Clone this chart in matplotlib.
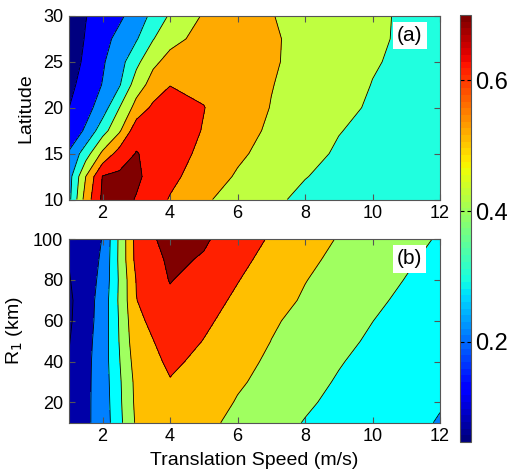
import numpy as np
import matplotlib
matplotlib.use("Agg")
import matplotlib.pyplot as plt
from matplotlib.cm import ScalarMappable
from matplotlib.colors import Normalize

plt.rcParams['font.family'] = ['Liberation Sans', 'DejaVu Sans']

# panel (a): translation speed vs latitude
speed_a = [1, 1.5, 2, 2.5, 3, 3.5, 4, 5, 6, 7, 8, 9, 10, 11, 12]
lat = [10, 12.5, 15, 17.5, 20, 22.5, 25, 27.5, 30]
val_a = [
    [0.270, 0.545, 0.720, 0.730, 0.695, 0.642, 0.593, 0.512, 0.466, 0.418, 0.380, 0.360, 0.345, 0.335, 0.325],
    [0.258, 0.500, 0.705, 0.720, 0.715, 0.671, 0.624, 0.551, 0.490, 0.446, 0.403, 0.375, 0.355, 0.340, 0.330],
    [0.210, 0.353, 0.522, 0.642, 0.705, 0.672, 0.641, 0.578, 0.516, 0.468, 0.425, 0.390, 0.365, 0.350, 0.340],
    [0.130, 0.215, 0.358, 0.487, 0.660, 0.660, 0.650, 0.595, 0.537, 0.485, 0.444, 0.403, 0.380, 0.365, 0.355],
    [0.099, 0.162, 0.250, 0.400, 0.537, 0.620, 0.635, 0.602, 0.548, 0.497, 0.459, 0.421, 0.390, 0.375, 0.365],
    [0.074, 0.138, 0.204, 0.291, 0.450, 0.540, 0.598, 0.585, 0.550, 0.503, 0.467, 0.432, 0.398, 0.380, 0.370],
    [0.050, 0.119, 0.189, 0.261, 0.374, 0.481, 0.530, 0.565, 0.550, 0.510, 0.473, 0.440, 0.406, 0.385, 0.375],
    [0.045, 0.106, 0.167, 0.229, 0.291, 0.396, 0.473, 0.530, 0.540, 0.510, 0.477, 0.444, 0.411, 0.390, 0.380],
    [0.054, 0.097, 0.139, 0.182, 0.245, 0.327, 0.413, 0.510, 0.520, 0.503, 0.474, 0.444, 0.413, 0.390, 0.380],
]

# panel (b): translation speed vs R1
speed_b = [1, 2, 3, 4, 5, 6, 7, 8, 9, 10, 11, 12]
r1 = [10, 20, 30, 40, 50, 60, 70, 80, 90, 100]
val_b = [
    [0.133, 0.236, 0.514, 0.560, 0.530, 0.470, 0.432, 0.396, 0.371, 0.346, 0.320, 0.295],
    [0.125, 0.240, 0.523, 0.580, 0.550, 0.493, 0.452, 0.412, 0.380, 0.352, 0.326, 0.305],
    [0.115, 0.244, 0.528, 0.595, 0.565, 0.512, 0.471, 0.429, 0.392, 0.362, 0.334, 0.310],
    [0.105, 0.247, 0.545, 0.616, 0.579, 0.530, 0.484, 0.445, 0.406, 0.373, 0.343, 0.316],
    [0.095, 0.245, 0.565, 0.632, 0.598, 0.548, 0.499, 0.461, 0.423, 0.387, 0.354, 0.323],
    [0.085, 0.240, 0.580, 0.657, 0.612, 0.575, 0.510, 0.477, 0.440, 0.401, 0.367, 0.335],
    [0.081, 0.237, 0.598, 0.680, 0.630, 0.587, 0.536, 0.489, 0.453, 0.417, 0.382, 0.350],
    [0.0935, 0.223, 0.605, 0.705, 0.655, 0.603, 0.560, 0.503, 0.465, 0.432, 0.397, 0.365],
    [0.103, 0.212, 0.631, 0.716, 0.693, 0.629, 0.565, 0.519, 0.480, 0.446, 0.411, 0.378],
    [0.105, 0.203, 0.636, 0.743, 0.710, 0.660, 0.587, 0.548, 0.493, 0.460, 0.426, 0.392],
]

levels = [0.1, 0.2, 0.3, 0.4, 0.5, 0.6, 0.7]
colors_a = ['#000080', '#0000ff', '#0090ff', '#20ffdf', '#bfff40', '#ffaa00', '#ff1500', '#800000']
colors_b = ['#000090', '#0000a8', '#0080ff', '#00ffff', '#a0ff60', '#ffbf00', '#ff2000', '#800000']

fig = plt.figure(figsize=(5.14, 4.75), dpi=100)
ax1 = fig.add_axes([0.134, 0.580, 0.722, 0.3865])
ax2 = fig.add_axes([0.134, 0.110, 0.722, 0.3865])
cax = fig.add_axes([0.895, 0.0695, 0.0214, 0.899])

edge = '#555555'


def panel(ax, x, y, z, cols, tag, ty):
    z = np.array(z)
    ax.contourf(x, y, z, levels=[-1] + levels + [2], colors=cols)
    ax.contour(x, y, z, levels=levels, colors='k', linewidths=0.6)
    ax.set_xlim(1, 12)
    ax.set_xticks([2, 4, 6, 8, 10, 12])
    ax.tick_params(direction='in', top=True, right=True, length=4,
                   labelsize=13, color=edge, pad=4)
    for s in ax.spines.values():
        s.set_color(edge)
        s.set_linewidth(0.8)
    ax.text(11.1, ty, tag, fontsize=15, ha='center', va='center',
            bbox=dict(facecolor='white', edgecolor='none', pad=3))


panel(ax1, speed_a, lat, val_a, colors_a, '(a)', 27.9)
ax1.set_ylim(10, 30)
ax1.set_yticks([10, 15, 20, 25, 30])
ax1.set_ylabel('Latitude', fontsize=14, labelpad=6)

panel(ax2, speed_b, r1, val_b, colors_b, '(b)', 90.3)
ax2.set_ylim(10, 100)
ax2.set_yticks([20, 40, 60, 80, 100])
ax2.set_ylabel('R$_1$ (km)', fontsize=14, labelpad=6)
ax2.set_xlabel('Translation Speed (m/s)', fontsize=14, labelpad=5)

sm = ScalarMappable(norm=Normalize(0.047, 0.70), cmap=plt.get_cmap('jet', 64))
cb = fig.colorbar(sm, cax=cax, ticks=[0.2, 0.4, 0.6])
cb.ax.set_yticklabels(['0.2', '0.4', '0.6'])
cb.ax.tick_params(direction='in', left=True, right=True, length=3,
                  labelsize=17, color='k', pad=3)
cb.outline.set_edgecolor(edge)
cb.outline.set_linewidth(0.8)

fig.savefig('out.png', dpi=100)
